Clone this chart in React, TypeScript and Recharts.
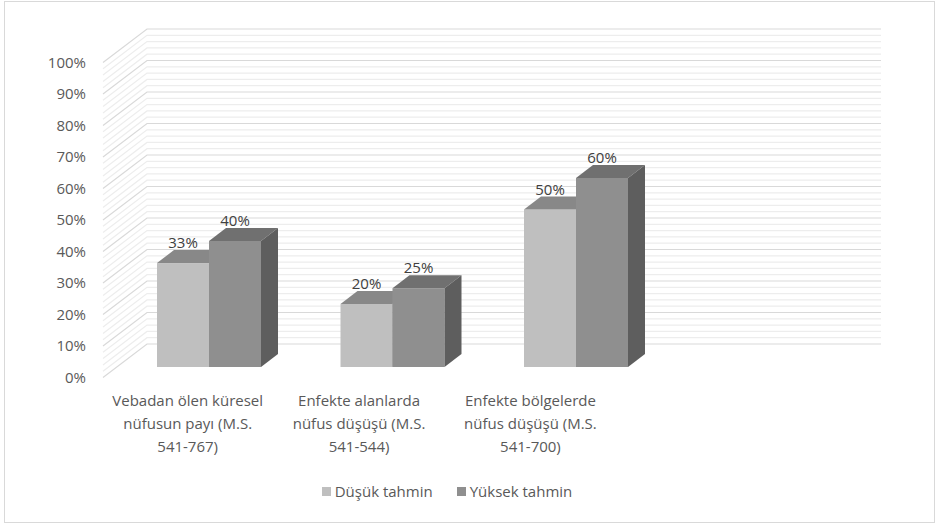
import {Bar, BarChart, CartesianGrid, LabelList, XAxis, YAxis} from "recharts";

// kategoriler ve seriler
const categories = [
    "Vebadan ölen küresel\nnüfusun payı (M.S.\n541-767)",
    "Enfekte alanlarda\nnüfus düşüşü (M.S.\n541-544)",
    "Enfekte bölgelerde\nnüfus düşüşü (M.S.\n541-700)",
    "",
];
const lowEstimate = [0.33, 0.2, 0.5, null];
const highEstimate = [0.4, 0.25, 0.6, null];
const seriesNames = ["Düşük tahmin", "Yüksek tahmin"];
const majorTicks = [0, 0.1, 0.2, 0.3, 0.4, 0.5, 0.6, 0.7, 0.8, 0.9, 1];

// ince ızgara çizgileri: her ana aralık 5'e bölünür
const gridTicks = majorTicks.flatMap((t, i) =>
    i === 0 ? [t] : [0.08, 0.06, 0.04, 0.02, 0].map(d => +(t - d).toFixed(2))
);

const data = categories.map((name, i) => ({
    name,
    low: lowEstimate[i],
    high: highEstimate[i],
}));

const W = 935;
const H = 525;
const PLOT_LEFT = 117;
const PLOT_TOP = 52;
const PLOT_BOTTOM = 367;
const PLOT_RIGHT = 851;
const FRONT = {dx: -14, dy: 10.5};
const BACK = {dx: 30, dy: -23};
const DEPTH = {dx: 17, dy: -13};
const TEXT = "#595959";
const FONT = "'Open Sans', sans-serif";
const FS = 15;
// eksen yazıları ön düzlemde biraz daha sıkışık (perspektif)
const LABEL_SCALE = 0.934;
const LABEL_SHIFT = -7.3;

const colors = {
    low: {front: "#bfbfbf", top: "#888888", side: "#8a8a8a"},
    high: {front: "#8f8f8f", top: "#707070", side: "#5e5e5e"},
};

const isMajor = (y: number) => {
    const v = Math.round(((PLOT_BOTTOM - y) / (PLOT_BOTTOM - PLOT_TOP)) * 50);
    return v % 5 === 0;
};

// yan duvar + arka duvar çizgisi
const renderGridLine = (props: any) => {
    const {x1, x2, y1, index} = props;
    const major = isMajor(y1);
    return (
        <polyline
            key={`grid-${index}`}
            points={`${x1 + FRONT.dx},${y1 + FRONT.dy} ${x1 + BACK.dx},${y1 + BACK.dy} ${x2 + BACK.dx},${y1 + BACK.dy}`}
            fill="none"
            stroke={major ? "#d9d9d9" : "#ededed"}
            strokeWidth={1.2}
        />
    );
};

const YTick = (props: any) => {
    const {y, payload} = props;
    const v = payload.value as number;
    if (Math.abs(v * 10 - Math.round(v * 10)) > 1e-6) return <g/>;
    return (
        <text x={PLOT_LEFT + FRONT.dx - 17} y={y + FRONT.dy + 5} textAnchor="end" fill={TEXT} fontSize={FS}
              fontFamily={FONT}>
            {Math.round(v * 100)}%
        </text>
    );
};

const CategoryTick = (props: any) => {
    const {x, payload} = props;
    const lines = String(payload.value).split("\n");
    const lx = x * LABEL_SCALE + LABEL_SHIFT;
    return (
        <text textAnchor="middle" fill={TEXT} fontSize={FS} fontFamily={FONT}>
            {lines.map((l, i) => (
                <tspan key={i} x={lx} y={PLOT_BOTTOM + 39 + i * 23}>{l}</tspan>
            ))}
        </text>
    );
};

const makeShape = (c: {front: string; top: string; side: string}) => (props: any) => {
    const {x, y, width, height} = props;
    if (!height || height <= 0) return <g/>;
    return (
        <g>
            <rect x={x} y={y} width={width} height={height} fill={c.front}/>
            <polygon
                points={`${x},${y} ${x + width},${y} ${x + width + DEPTH.dx},${y + DEPTH.dy} ${x + DEPTH.dx},${y + DEPTH.dy}`}
                fill={c.top}/>
            <polygon
                points={`${x + width},${y} ${x + width + DEPTH.dx},${y + DEPTH.dy} ${x + width + DEPTH.dx},${y + height + DEPTH.dy} ${x + width},${y + height}`}
                fill={c.side}/>
        </g>
    );
};

const ValueLabel = (props: any) => {
    const {x, y, width, value} = props;
    if (value === null || value === undefined) return null;
    return (
        <text x={x + width / 2} y={y - 15} textAnchor="middle" fill="#404040" fontSize={FS} fontFamily={FONT}>
            {Math.round(value * 100)}%
        </text>
    );
};

const App = () => {
    return (
        <div style={{position: "absolute", left: 0, top: 0, width: W, height: H, background: "#fff", fontFamily: FONT}}>
            <div style={{
                position: "absolute", left: 4, top: 1, width: 929, height: 520,
                border: "1px solid #d9d9d9"
            }}/>
            <div style={{position: "absolute", left: 0, top: 0}}>
                <BarChart
                    width={W}
                    height={H}
                    data={data}
                    margin={{top: PLOT_TOP, right: W - PLOT_RIGHT, bottom: H - PLOT_BOTTOM - 30, left: PLOT_LEFT - 60}}
                    barGap={0}
                >
                    <CartesianGrid vertical={false} horizontal={renderGridLine}/>
                    <XAxis dataKey="name" height={30} interval={0} tickLine={false} axisLine={false}
                           tick={<CategoryTick/>}/>
                    <YAxis width={60} domain={[0, 1]} ticks={gridTicks} interval={0} tickLine={false}
                           axisLine={false} tick={<YTick/>}/>
                    <Bar dataKey="low" name={seriesNames[0]} barSize={52} isAnimationActive={false}
                         shape={makeShape(colors.low)}>
                        <LabelList dataKey="low" content={<ValueLabel/>}/>
                    </Bar>
                    <Bar dataKey="high" name={seriesNames[1]} barSize={52} isAnimationActive={false}
                         shape={makeShape(colors.high)}>
                        <LabelList dataKey="high" content={<ValueLabel/>}/>
                    </Bar>
                </BarChart>
            </div>
            <div style={{
                position: "absolute", left: 0, top: 481, width: 894, display: "flex",
                justifyContent: "center", gap: 24, fontSize: FS, color: TEXT
            }}>
                {seriesNames.map((n, i) => (
                    <div key={n} style={{display: "flex", alignItems: "center", gap: 4}}>
                        <span style={{
                            width: 9, height: 9, display: "inline-block",
                            background: i === 0 ? colors.low.front : colors.high.front
                        }}/>
                        <span>{n}</span>
                    </div>
                ))}
            </div>
        </div>
    );
};

export default App;
